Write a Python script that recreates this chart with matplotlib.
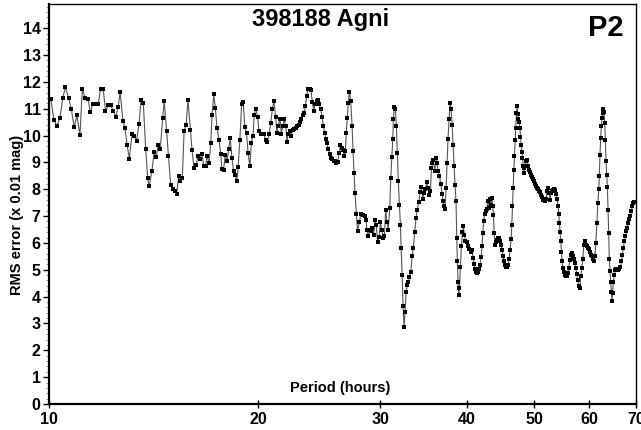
import matplotlib
matplotlib.use('Agg')
import matplotlib.pyplot as plt
from matplotlib.ticker import FixedLocator, NullLocator, MultipleLocator, FixedFormatter

# period (hours) and RMS error (x 0.01 mag)
period = [
    10.06, 10.17, 10.26, 10.37, 10.47, 10.56, 10.67, 10.77, 10.87, 10.97,
    11.08, 11.17, 11.27, 11.38, 11.47, 11.57, 11.67, 11.77, 11.87, 11.97,
    12.06, 12.18, 12.28, 12.37, 12.48, 12.58, 12.66, 12.78, 12.86, 12.96,
    13.05, 13.17, 13.27, 13.37, 13.48, 13.57, 13.67, 13.78, 13.87, 13.94,
    14.07, 14.17, 14.27, 14.36, 14.46, 14.58, 14.65, 14.77, 14.86, 14.97,
    15.07, 15.17, 15.27, 15.37, 15.46, 15.56, 15.65, 15.76, 15.85, 15.98,
    16.07, 16.17, 16.28, 16.39, 16.50, 16.60, 16.70, 16.81, 16.89, 17.00,
    17.10, 17.17, 17.27, 17.36, 17.45, 17.57, 17.67, 17.74, 17.84, 17.94,
    18.05, 18.14, 18.24, 18.34, 18.44, 18.54, 18.64, 18.72, 18.83, 18.94,
    19.04, 19.14, 19.25, 19.35, 19.46, 19.56, 19.67, 19.75, 19.86, 19.97,
    20.06, 20.17, 20.28, 20.39, 20.51, 20.61, 20.74, 20.86, 20.97, 21.08,
    21.20, 21.29, 21.38, 21.51, 21.60, 21.70, 21.82, 21.92, 22.01, 22.10,
    22.21, 22.33, 22.43, 22.55, 22.65, 22.75, 22.87, 22.99, 23.09, 23.19,
    23.29, 23.39, 23.50, 23.59, 23.74, 23.84, 23.94, 24.05, 24.15, 24.29,
    24.39, 24.50, 24.62, 24.72, 24.83, 24.94, 25.05, 25.13, 25.24, 25.37,
    25.48, 25.59, 25.70, 25.81, 25.92, 26.04, 26.16, 26.27, 26.39, 26.51,
    26.62, 26.71, 26.79, 26.88, 26.97, 27.07, 27.19, 27.31, 27.40, 27.49,
    27.58, 27.70, 27.82, 27.98, 28.11, 28.29, 28.48, 28.60, 28.69, 28.81,
    28.96, 29.08, 29.21, 29.34, 29.47, 29.59, 29.72, 29.87, 30.00, 30.14,
    30.27, 30.40, 30.53, 30.66, 30.79, 30.95, 31.05, 31.16, 31.26, 31.32,
    31.42, 31.53, 31.63, 31.73, 31.84, 31.95, 32.06, 32.13, 32.24, 32.34,
    32.45, 32.56, 32.67, 32.81, 32.92, 33.02, 33.18, 33.32, 33.46, 33.62,
    33.76, 33.90, 34.06, 34.22, 34.37, 34.53, 34.68, 34.82, 34.98, 35.13,
    35.30, 35.41, 35.53, 35.65, 35.76, 35.93, 36.08, 36.20, 36.32, 36.48,
    36.65, 36.81, 36.93, 37.05, 37.17, 37.30, 37.42, 37.54, 37.67, 37.80,
    37.92, 38.05, 38.17, 38.30, 38.42, 38.55, 38.64, 38.72, 38.81, 38.90,
    38.98, 39.11, 39.24, 39.37, 39.50, 39.63, 39.76, 39.94, 40.11, 40.30,
    40.49, 40.66, 40.79, 40.93, 41.06, 41.19, 41.33, 41.46, 41.61, 41.75,
    41.89, 42.02, 42.12, 42.26, 42.40, 42.54, 42.68, 42.82, 42.96, 43.12,
    43.26, 43.40, 43.55, 43.63, 43.74, 43.88, 44.02, 44.17, 44.31, 44.47,
    44.62, 44.76, 44.91, 45.06, 45.21, 45.36, 45.51, 45.66, 45.82, 45.97,
    46.12, 46.28, 46.38, 46.48, 46.59, 46.69, 46.79, 46.90, 47.00, 47.10,
    47.21, 47.31, 47.41, 47.52, 47.63, 47.73, 47.84, 47.95, 48.05, 48.15,
    48.26, 48.37, 48.48, 48.64, 48.80, 48.96, 49.12, 49.28, 49.45, 49.61,
    49.78, 49.94, 50.11, 50.27, 50.44, 50.61, 50.77, 50.94, 51.11, 51.28,
    51.45, 51.62, 51.79, 51.96, 52.13, 52.31, 52.48, 52.66, 52.83, 53.01,
    53.18, 53.36, 53.54, 53.71, 53.89, 54.07, 54.19, 54.30, 54.43, 54.55,
    54.66, 54.78, 54.91, 55.09, 55.27, 55.46, 55.64, 55.83, 56.02, 56.21,
    56.40, 56.58, 56.77, 56.96, 57.15, 57.34, 57.53, 57.72, 57.91, 58.10,
    58.30, 58.49, 58.69, 58.88, 59.08, 59.27, 59.47, 59.67, 59.87, 60.07,
    60.27, 60.47, 60.67, 60.87, 61.07, 61.28, 61.48, 61.69, 61.89, 61.98,
    62.13, 62.27, 62.40, 62.55, 62.69, 62.82, 62.96, 63.11, 63.24, 63.38,
    63.53, 63.66, 63.80, 63.95, 64.07, 64.22, 64.37, 64.50, 64.65, 64.80,
    64.92, 65.14, 65.35, 65.57, 65.78, 66.00, 66.24, 66.46, 66.68, 66.90,
    67.12, 67.34, 67.56, 67.78, 68.00, 68.22, 68.46, 68.69, 68.92, 69.14,
    69.37, 69.53,
]
rms = [
    11.37, 10.57, 10.35, 10.66, 11.41, 11.80, 11.41, 10.97, 10.31, 10.75,
    10.01, 11.72, 11.41, 11.37, 10.87, 11.18, 11.16, 11.16, 11.74, 11.72,
    10.93, 11.12, 11.12, 10.93, 10.70, 11.06, 11.63, 10.53, 10.29, 9.64,
    9.13, 10.04, 10.00, 9.81, 10.44, 11.34, 11.22, 9.50, 8.42, 8.11,
    8.69, 9.38, 9.19, 9.63, 9.48, 10.66, 11.28, 10.16, 9.23, 8.17,
    8.01, 7.92, 7.82, 8.48, 8.29, 8.42, 10.16, 10.41, 11.34, 10.22,
    9.45, 8.79, 8.89, 9.23, 9.13, 9.33, 8.88, 8.88, 9.25, 8.98,
    9.73, 10.78, 11.53, 11.03, 10.29, 9.85, 9.33, 8.76, 8.73, 9.29,
    9.04, 9.50, 9.89, 9.17, 8.67, 8.54, 8.29, 8.83, 9.85, 11.18,
    11.24, 10.31, 10.10, 9.35, 8.85, 9.73, 10.00, 10.78, 11.00, 10.70,
    10.16, 10.07, 10.07, 10.04, 9.85, 9.75, 10.04, 10.47, 11.00, 11.28,
    10.70, 10.10, 10.37, 10.60, 10.07, 10.35, 10.60, 10.37, 9.75, 10.07,
    10.16, 9.97, 10.20, 10.25, 10.29, 10.35, 10.41, 10.50, 10.60, 10.78,
    10.85, 11.09, 11.47, 11.74, 11.72, 11.69, 11.24, 10.93, 11.16, 11.28,
    11.32, 11.16, 10.97, 10.70, 10.37, 10.10, 9.88, 9.73, 9.50, 9.33,
    9.17, 9.13, 9.07, 9.04, 8.96, 9.00, 9.35, 9.63, 9.54, 9.45,
    9.23, 9.41, 10.10, 10.66, 11.22, 11.62, 11.28, 10.37, 9.41, 8.61,
    7.86, 7.09, 6.43, 6.77, 7.08, 7.05, 7.01, 6.87, 6.49, 6.27,
    6.49, 6.43, 6.56, 6.31, 6.84, 6.68, 6.02, 6.22, 6.77, 6.49,
    6.18, 6.27, 7.21, 6.77, 6.49, 7.30, 8.42, 9.19, 9.88, 10.60,
    11.07, 10.97, 10.35, 9.35, 8.29, 7.43, 6.68, 5.81, 4.81, 3.66,
    2.88, 3.41, 4.19, 4.44, 4.56, 4.73, 4.90, 5.50, 5.81, 6.41,
    6.93, 7.24, 7.51, 7.88, 8.07, 7.64, 7.86, 7.99, 8.26, 8.05,
    7.80, 7.92, 8.79, 8.98, 9.10, 8.67, 9.17, 8.98, 8.67, 8.51,
    8.20, 7.84, 7.55, 7.36, 7.26, 8.05, 8.98, 9.88, 10.60, 11.22,
    10.97, 10.41, 9.66, 8.85, 8.17, 7.55, 6.18, 5.31, 4.53, 4.07,
    4.32, 5.12, 5.87, 6.39, 6.62, 6.31, 6.06, 6.02, 5.87, 5.77,
    5.68, 5.75, 5.44, 5.22, 5.03, 4.90, 4.88, 4.90, 5.03, 5.19,
    5.47, 5.87, 6.37, 6.80, 7.09, 7.18, 7.26, 7.55, 7.30, 7.64,
    7.43, 7.67, 7.36, 7.05, 6.37, 5.93, 6.02, 6.12, 6.18, 6.18,
    6.06, 5.93, 5.72, 5.50, 5.31, 5.19, 5.12, 5.12, 5.19, 5.40,
    5.75, 6.14, 6.68, 7.36, 8.05, 8.73, 9.25, 9.85, 10.29, 10.85,
    11.09, 10.82, 10.60, 10.50, 10.29, 9.95, 9.63, 9.38, 9.17, 8.88,
    8.61, 8.79, 8.88, 9.04, 9.10, 8.88, 8.73, 8.63, 8.54, 8.46,
    8.38, 8.29, 8.21, 8.13, 8.05, 7.99, 7.92, 7.88, 7.80, 7.71,
    7.61, 7.61, 7.55, 7.64, 7.92, 8.05, 7.86, 7.61, 7.86, 7.92,
    7.96, 8.01, 7.96, 7.84, 7.64, 7.36, 7.09, 6.74, 6.39, 6.06,
    5.68, 5.31, 5.06, 4.90, 4.81, 4.78, 4.78, 4.88, 5.06, 5.37,
    5.56, 5.62, 5.52, 5.40, 5.25, 5.06, 4.85, 4.63, 4.40, 4.32,
    4.75, 5.06, 5.40, 5.93, 6.06, 5.93, 5.87, 5.81, 5.77, 5.65,
    5.56, 5.50, 5.40, 5.31, 5.50, 6.00, 6.74, 7.49, 7.99, 8.48,
    9.29, 9.91, 10.35, 10.66, 10.85, 11.00, 10.87, 10.47, 9.85, 9.04,
    8.54, 8.09, 7.24, 6.37, 5.40, 4.94, 4.53, 4.19, 3.85, 4.13,
    4.53, 4.81, 5.00, 5.03, 5.00, 5.00, 5.03, 5.12, 5.31, 5.56,
    5.81, 6.06, 6.24, 6.43, 6.56, 6.74, 6.89, 6.99, 7.18, 7.36,
    7.49, 7.51,
]

x_ticks = [10, 20, 30, 40, 50, 60, 70]
y_ticks = list(range(15))

plt.rcParams['font.family'] = ['Liberation Sans', 'DejaVu Sans']
plt.rcParams['font.weight'] = 'bold'

fig = plt.figure(figsize=(6.41, 4.30), dpi=100)
ax = fig.add_axes([0.0764, 0.0605, 0.9158, 0.9302])

ax.plot(period, rms, color='#555555', lw=0.8, marker='s', ms=2.9,
        mfc='black', mec='black', mew=0)

ax.set_xscale('log')
ax.set_xlim(10, 70)
ax.set_ylim(0, 14.9)
ax.xaxis.set_major_locator(FixedLocator(x_ticks))
ax.xaxis.set_major_formatter(FixedFormatter([str(t) for t in x_ticks]))
ax.xaxis.set_minor_locator(NullLocator())
ax.set_yticks(y_ticks)
ax.yaxis.set_minor_locator(MultipleLocator(0.2))

ax.tick_params(axis='x', direction='inout', length=6, width=1, labelsize=11.5, pad=3)
ax.tick_params(axis='y', which='major', direction='out', length=4, width=1, labelsize=11.5, pad=2)
ax.tick_params(axis='y', which='minor', direction='out', length=2, width=0.6, color='#888888')

for s in ['left', 'bottom']:
    ax.spines[s].set_linewidth(1.6)
for s in ['top', 'right']:
    ax.spines[s].set_linewidth(1.0)

ax.text(0.462, 0.96, '398188 Agni', transform=ax.transAxes, ha='center', va='center',
        fontsize=17, fontweight='bold')
ax.text(0.978, 0.94, 'P2', transform=ax.transAxes, ha='right', va='center',
        fontsize=21, fontweight='bold')
ax.text(0.496, 0.04, 'Period (hours)', transform=ax.transAxes, ha='center', va='center',
        fontsize=10.5, fontweight='bold')
fig.text(0.027, 0.5, 'RMS error (x 0.01 mag)', rotation=90, ha='center', va='center',
         fontsize=10.5, fontweight='bold')

fig.savefig('out.png', dpi=100)
